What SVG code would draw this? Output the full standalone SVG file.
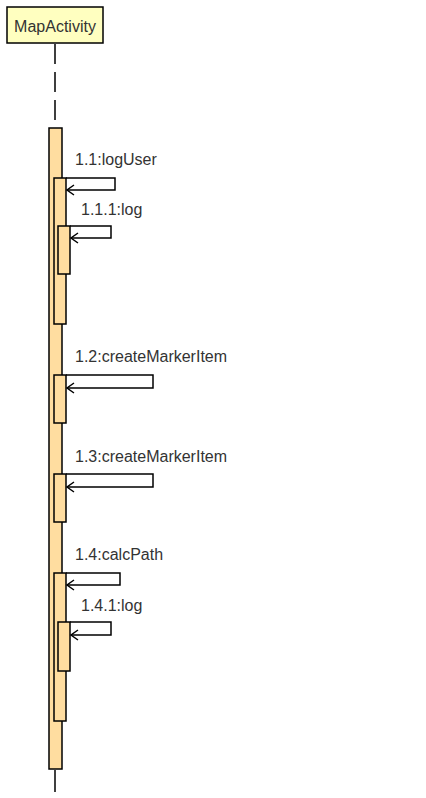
<svg xmlns="http://www.w3.org/2000/svg" width="426" height="798" viewBox="0 0 426 798">
<style>
.hdr{fill:#FFFFC0;stroke:#000;stroke-width:1.5}
.bar{fill:#FFDDA0;stroke:#000;stroke-width:1.5}
.life{stroke:#000;stroke-width:1.5;fill:none}
.msg{stroke:#000;stroke-width:1.5;fill:none}
text{font-family:"Liberation Sans",Arial,sans-serif;font-size:16px;fill:#333}
</style>
<defs>
<marker id="open" viewBox="0 0 10 12" refX="8" refY="6" markerWidth="10" markerHeight="12" markerUnits="userSpaceOnUse" orient="auto">
<path d="M1,1 L8,6 L1,11" fill="none" stroke="#000" stroke-width="1.5"/>
</marker>
</defs>
<g id="MapActivity">
<rect class="hdr" x="7" y="7" width="96" height="36"/>
<text x="55" y="32" text-anchor="middle">MapActivity</text>
</g>
<g id="lifeline">
<line class="life" x1="55" y1="44" x2="55" y2="128" stroke-dasharray="20,8"/>
<line class="life" x1="55" y1="770" x2="55" y2="792"/>
</g>
<g id="activations">
<rect class="bar" x="49" y="128" width="13" height="641"/>
<rect class="bar" x="54" y="178" width="12" height="146"/>
<rect class="bar" x="58" y="226" width="12" height="48"/>
<rect class="bar" x="54" y="375" width="12" height="48"/>
<rect class="bar" x="54" y="474" width="12" height="48"/>
<rect class="bar" x="54" y="573" width="12" height="148"/>
<rect class="bar" x="58" y="622" width="12" height="49"/>
</g>
<g id="connectors">
<polyline class="msg" points="66,178 115,178 115,190 67,190" marker-end="url(#open)"/>
<polyline class="msg" points="70,226 111,226 111,238 71,238" marker-end="url(#open)"/>
<polyline class="msg" points="66,375 153,375 153,388 67,388" marker-end="url(#open)"/>
<polyline class="msg" points="66,474 153,474 153,487 67,487" marker-end="url(#open)"/>
<polyline class="msg" points="66,573 120,573 120,585 67,585" marker-end="url(#open)"/>
<polyline class="msg" points="70,622 111,622 111,635 71,635" marker-end="url(#open)"/>
</g>
<g id="labels">
<text x="75" y="165">1.1:logUser</text>
<text x="81" y="215">1.1.1:log</text>
<text x="75" y="362">1.2:createMarkerItem</text>
<text x="75" y="462">1.3:createMarkerItem</text>
<text x="75" y="560">1.4:calcPath</text>
<text x="81" y="611">1.4.1:log</text>
</g>
</svg>
